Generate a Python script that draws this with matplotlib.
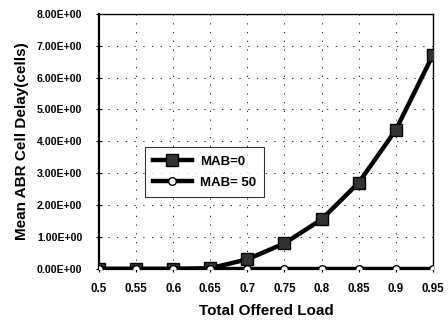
import matplotlib.pyplot as plt
import numpy as np

# data
load = [0.5, 0.55, 0.6, 0.65, 0.7, 0.75, 0.8, 0.85, 0.9, 0.95]
mab0 = [0.0, 0.0, 0.0, 0.02, 0.3, 0.8, 1.55, 2.7, 4.35, 6.7]
mab50 = [0, 0, 0, 0, 0, 0, 0, 0, 0, 0]
y_ticks = [0, 1, 2, 3, 4, 5, 6, 7, 8]

plt.rcParams['font.family'] = ['Liberation Sans', 'DejaVu Sans']
plt.rcParams['font.weight'] = 'bold'

fig = plt.figure(figsize=(4.48, 3.22), dpi=100)
ax = fig.add_axes([0.221, 0.165, 0.745, 0.792])

ax.plot(load, mab0, '-', color='black', lw=3.2, marker='s', ms=8,
        mfc='#333333', mec='black', label='MAB=0', zorder=3)
ax.plot(load, mab50, '-', color='black', lw=3.2, marker='o', ms=5.5,
        mfc='white', mec='black', label='MAB= 50', zorder=4)

ax.set_xlim(0.5, 0.95)
ax.set_ylim(0, 8)
ax.set_xticks(load)
ax.set_xticklabels([f'{v:g}' for v in load], fontsize=8.3)
ax.set_yticks(y_ticks)
ax.set_yticklabels([f'{v:.2E}' for v in y_ticks], fontsize=7.6)
ax.tick_params(direction='inout', length=4, width=0.8)
ax.tick_params(axis='x', pad=8)
ax.tick_params(axis='y', pad=10)

ax.grid(True, color='black', linestyle=(0, (1.5, 9)), linewidth=0.6)
ax.set_axisbelow(True)

ax.spines['left'].set_linewidth(1.6)
ax.spines['bottom'].set_linewidth(1.6)
ax.spines['top'].set_linewidth(1.0)
ax.spines['right'].set_linewidth(1.0)

ax.set_xlabel('Total Offered Load', fontsize=11, fontweight='bold', labelpad=7)
ax.set_ylabel('Mean ABR Cell Delay(cells)', fontsize=11, fontweight='bold', labelpad=6)

leg = ax.legend(loc='upper left', bbox_to_anchor=(0.117, 0.502), fontsize=9.5,
                frameon=True, fancybox=False, edgecolor='black',
                handlelength=3.0, handletextpad=0.6, borderpad=0.6,
                labelspacing=0.7)
leg.get_frame().set_linewidth(0.8)

fig.savefig('out.png', dpi=100)
